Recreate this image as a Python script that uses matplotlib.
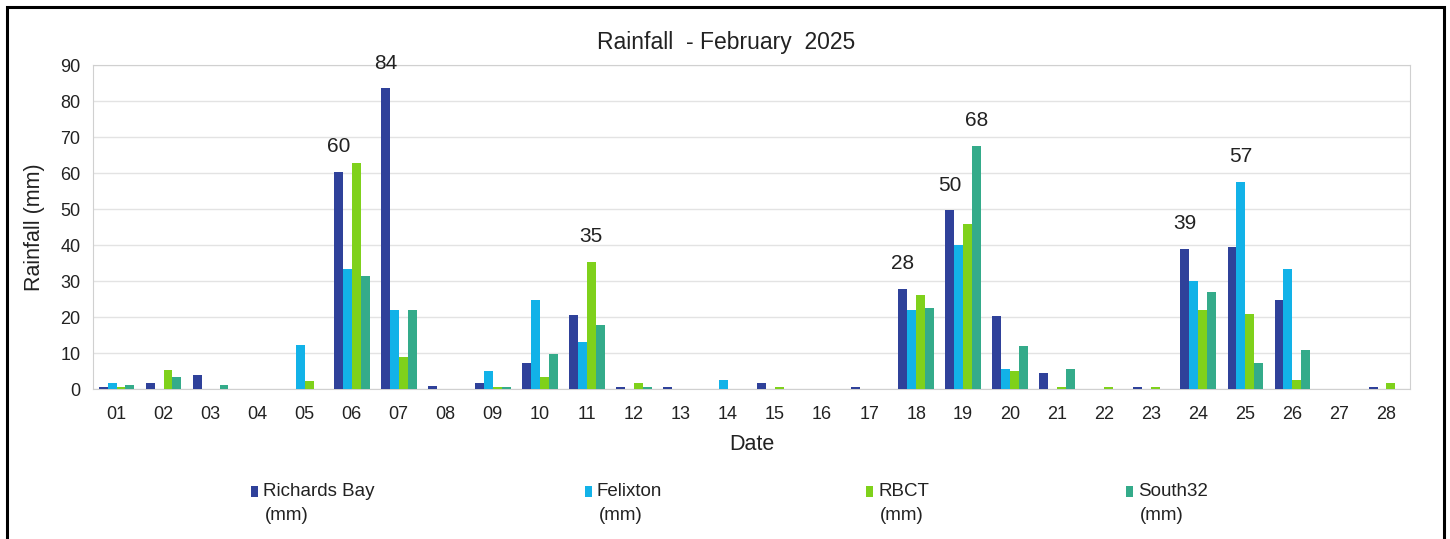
import matplotlib
matplotlib.use("Agg")
import matplotlib.pyplot as plt
import numpy as np
from matplotlib.patches import Rectangle

plt.rcParams['font.family'] = ['Liberation Sans', 'DejaVu Sans']

dates = ["01","02","03","04","05","06","07","08","09","10","11","12","13","14",
         "15","16","17","18","19","20","21","22","23","24","25","26","27","28"]
richards_bay = [0.6,1.8,3.9,0,0,60.3,83.6,0.7,1.8,7.1,20.5,0.6,0.6,0,
                1.8,0,0.6,27.8,49.7,20.3,4.5,0,0.6,38.9,39.5,24.7,0,0.6]
felixton     = [1.7,0,0,0,12.3,33.2,22.0,0,5.0,24.7,13.0,0,0,2.4,
                0,0,0,22.0,40.0,5.5,0,0,0,30.0,57.5,33.3,0,0]
rbct         = [0.6,5.3,0,0,2.2,62.8,8.8,0,0.6,3.4,35.3,1.8,0,0,
                0.6,0,0,26.1,45.8,5.0,0.6,0.6,0.6,22.0,20.8,2.4,0,1.8]
south32      = [1.1,3.2,1.1,0,0,31.5,22.0,0,0.6,9.8,17.8,0.6,0,0,
                0,0,0,22.5,67.5,12.0,5.5,0,0,26.9,7.1,10.8,0,0]
series_names = ["Richards Bay", "Felixton", "RBCT", "South32"]
unit_label = "(mm)"
colors = ["#2F419A", "#12B2E8", "#7FD11B", "#34AB8A"]
# annotated points: (date index, series index, label)
labels = [(5,0,"60"),(6,0,"84"),(10,2,"35"),(17,0,"28"),(18,0,"50"),
          (18,3,"68"),(23,0,"39"),(24,1,"57")]

data = [richards_bay, felixton, rbct, south32]
TXT = '#222222'
W, H = 1450, 539

fig = plt.figure(figsize=(14.5, 5.39), dpi=100)
ax = fig.add_axes([93/W, 1-389/H, (1410-93)/W, (389-65)/H])

x = np.arange(len(dates))
w = 0.19
offsets = (np.arange(4) - 1.5) * w
for i, (vals, c, n) in enumerate(zip(data, colors, series_names)):
    ax.bar(x + offsets[i], vals, width=w, color=c, label=n, zorder=3)

for di, si, txt in labels:
    ax.annotate(txt, (x[di] + offsets[si], data[si][di]), xytext=(0, 18),
                textcoords='offset points', ha='center', va='center',
                fontsize=15, color=TXT)

ax.set_xlim(-0.5, len(dates) - 0.5)
ax.set_ylim(0, 90)
ax.set_yticks(np.arange(0, 91, 10))
ax.set_xticks(x)
ax.set_xticklabels(dates)
ax.tick_params(axis='both', labelsize=13, length=0, colors=TXT)
ax.tick_params(axis='x', pad=12)
ax.tick_params(axis='y', pad=9)
ax.grid(axis='y', color='#E3E3E3', linewidth=1, zorder=0)
for s in ax.spines.values():
    s.set_color('#D0D0D0')
ax.set_ylabel("Rainfall (mm)", fontsize=15.5, color=TXT)
ax.yaxis.set_label_coords((45-93)/(1410-93), 0.5)
ax.set_xlabel("Date", fontsize=15.5, color=TXT)
ax.xaxis.set_label_coords(0.5, -(444-389)/(389-65))
ax.xaxis.label.set_va('center')
fig.text(726/W, 1-42/H, "Rainfall  - February  2025", ha='center', va='center',
         fontsize=16.5, color=TXT)

# legend: square handle beside first line, unit on the second line
sq_x = [251, 585, 866, 1126]
for i, (n, c) in enumerate(zip(series_names, colors)):
    fig.patches.append(Rectangle((sq_x[i]/W, 1-497/H), 7/W, 11/H,
                                 transform=fig.transFigure, facecolor=c, edgecolor='none'))
    fig.text((sq_x[i]+12)/W, 1-492/H, n, ha='left', va='center', fontsize=13.5, color=TXT)
    fig.text((sq_x[i]+14)/W, 1-516/H, unit_label, ha='left', va='center', fontsize=13.5, color=TXT)

fig.patches.append(Rectangle((7/W, -0.05), (1444-7)/W, 1.05-7/H, transform=fig.transFigure,
                             fill=False, edgecolor='black', linewidth=2.2))
fig.savefig("out.png", dpi=100)
